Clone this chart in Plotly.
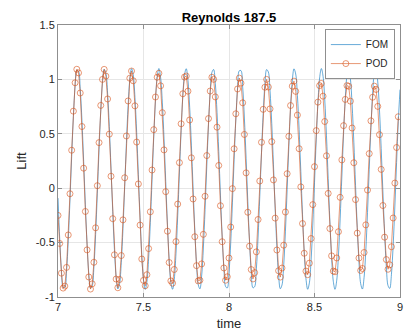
import numpy as np
import plotly.graph_objects as go

# Lift coefficient history, Reynolds 187.5, sampled every 0.01 time units from t = 7
t0 = 7.0
dt = 0.01

# Full-order model (FOM)
lift_fom = [
    -0.091, -0.464, -0.751, -0.909, -0.912, -0.760, -0.478, -0.108, 0.292, 0.660, 0.939, 1.085, 1.076, 0.913, 0.622, 0.247,
    -0.152, -0.515, -0.785, -0.919, -0.898, -0.724, -0.425, -0.046, 0.353, 0.710, 0.970, 1.093, 1.059, 0.875, 0.568, 0.185,
    -0.212, -0.565, -0.815, -0.926, -0.880, -0.685, -0.370, 0.016, 0.412, 0.758, 1.000, 1.099, 1.041, 0.835, 0.512, 0.124,
    -0.271, -0.610, -0.843, -0.930, -0.860, -0.643, -0.314, 0.078, 0.471, 0.804, 1.025, 1.100, 1.018, 0.791, 0.454, 0.061,
    -0.329, -0.655, -0.866, -0.929, -0.836, -0.598, -0.255, 0.140, 0.528, 0.846, 1.046, 1.098, 0.991, 0.745, 0.396, -0.001,
    -0.385, -0.696, -0.886, -0.925, -0.807, -0.550, -0.196, 0.203, 0.582, 0.886, 1.064, 1.091, 0.962, 0.696, 0.336, -0.063,
    -0.440, -0.734, -0.903, -0.917, -0.776, -0.502, -0.135, 0.264, 0.636, 0.922, 1.079, 1.081, 0.929, 0.645, 0.275, -0.125,
    -0.492, -0.770, -0.915, -0.905, -0.741, -0.449, -0.074, 0.325, 0.687, 0.956, 1.090, 1.068, 0.893, 0.593, 0.214, -0.185,
    -0.542, -0.802, -0.924, -0.889, -0.704, -0.395, -0.012, 0.385, 0.737, 0.986, 1.097, 1.050, 0.853, 0.538, 0.152, -0.245,
    -0.590, -0.831, -0.929, -0.870, -0.662, -0.339, 0.050, 0.444, 0.783, 1.014, 1.100, 1.029, 0.812, 0.481, 0.089, -0.303,
    -0.636, -0.856, -0.930, -0.847, -0.618, -0.282, 0.112, 0.502, 0.827, 1.037, 1.099, 1.004, 0.766, 0.423, 0.027, -0.360,
    -0.677, -0.877, -0.927, -0.820, -0.573, -0.224, 0.174, 0.558, 0.868, 1.056, 1.095, 0.976, 0.719, 0.363, -0.035, -0.415,
    -0.718, -0.895, -0.921, -0.791, -0.524, -0.164, 0.236, 0.612, 0.906,
]

# Reduced-order model (POD)
lift_pod = [
    -0.250, -0.508, -0.781, -0.918, -0.900, -0.728, -0.430, -0.051, 0.349, 0.708, 0.969, 1.093, 1.060, 0.875, 0.567, 0.184,
    -0.214, -0.567, -0.816, -0.927, -0.879, -0.681, -0.364, 0.023, 0.419, 0.761, 1.000, 1.092, 1.030, 0.820, 0.497, 0.110,
    -0.280, -0.612, -0.835, -0.915, -0.839, -0.619, -0.291, 0.096, 0.480, 0.802, 1.011, 1.077, 0.987, 0.757, 0.424, 0.039,
    -0.339, -0.651, -0.847, -0.897, -0.795, -0.555, -0.217, 0.167, 0.538, 0.838, 1.020, 1.056, 0.941, 0.694, 0.352, -0.032,
    -0.395, -0.683, -0.852, -0.873, -0.747, -0.491, -0.146, 0.235, 0.592, 0.868, 1.022, 1.031, 0.892, 0.627, 0.279, -0.099,
    -0.446, -0.712, -0.852, -0.846, -0.696, -0.424, -0.074, 0.300, 0.640, 0.893, 1.020, 1.001, 0.839, 0.561, 0.209, -0.161,
    -0.492, -0.733, -0.846, -0.814, -0.642, -0.357, -0.004, 0.362, 0.684, 0.912, 1.012, 0.966, 0.785, 0.494, 0.141, -0.221,
    -0.533, -0.748, -0.834, -0.776, -0.585, -0.288, 0.066, 0.422, 0.725, 0.928, 1.000, 0.930, 0.729, 0.428, 0.076, -0.275,
    -0.568, -0.759, -0.817, -0.734, -0.524, -0.219, 0.133, 0.477, 0.760, 0.938, 0.984, 0.890, 0.672, 0.363, 0.012, -0.325,
    -0.598, -0.762, -0.795, -0.689, -0.463, -0.151, 0.198, 0.529, 0.791, 0.943, 0.963, 0.846, 0.613, 0.298, -0.048, -0.371,
    -0.622, -0.762, -0.768, -0.641, -0.400, -0.084, 0.260, 0.575, 0.816, 0.943, 0.937, 0.800, 0.553, 0.234, -0.105, -0.413,
    -0.642, -0.756, -0.738, -0.591, -0.337, -0.017, 0.318, 0.619, 0.836, 0.938, 0.908, 0.752, 0.492, 0.173, -0.159, -0.450,
    -0.656, -0.745, -0.704, -0.538, -0.274, 0.047, 0.374, 0.657,
]

t_fom = np.round(t0 + dt * np.arange(len(lift_fom)), 2)
t_pod = np.round(t0 + dt * np.arange(len(lift_pod)), 2)

x_ticks = [7, 7.5, 8, 8.5, 9]
x_ticktext = ["7", "7.5", "8", "8.5", "9"]
y_ticks = [-1, -0.5, 0, 0.5, 1, 1.5]
y_ticktext = ["-1", "-0.5", "0", "0.5", "1", "1.5"]

BLUE = "#0072BD"
ORANGE = "#D95319"
FONT = "Liberation Sans, Arial, Helvetica, sans-serif"
AXIS_GREY = "#8f8f8f"
GRID_GREY = "#e6e6e6"

fig = go.Figure()
fig.add_trace(go.Scatter(
    x=t_fom, y=lift_fom, mode="lines", name="FOM",
    line=dict(color=BLUE, width=0.6, shape="spline", smoothing=1),
))
fig.add_trace(go.Scatter(
    x=t_pod, y=lift_pod, mode="lines+markers", name="POD",
    line=dict(color=ORANGE, width=0.6),
    marker=dict(symbol="circle-open", size=6, color=ORANGE, line=dict(width=0.6, color=ORANGE)),
))

axis_common = dict(
    showgrid=True, gridcolor=GRID_GREY, gridwidth=1,
    zeroline=False, showline=True, linecolor=AXIS_GREY, linewidth=1,
    mirror="ticks", ticks="inside", ticklen=4, tickcolor=AXIS_GREY, tickwidth=1,
    tickfont=dict(family=FONT, size=11, color="#262626"),
)

fig.update_layout(
    width=408, height=333,
    margin=dict(l=58, r=5, t=25, b=36),
    paper_bgcolor="white", plot_bgcolor="white",
    font=dict(family=FONT, color="#262626"),
    title=dict(
        text="Reynolds 187.5", x=0.5, xref="paper", xanchor="center",
        y=1 - 17 / 333, yref="container", yanchor="middle",
        font=dict(family=FONT, size=13, color="black", weight="bold"),
    ),
    xaxis=dict(
        range=[7, 9], tickvals=x_ticks, ticktext=x_ticktext,
        title=dict(text="time", font=dict(family=FONT, size=13, color="#262626"), standoff=6),
        **axis_common,
    ),
    yaxis=dict(
        range=[-1, 1.5], tickvals=y_ticks, ticktext=y_ticktext,
        title=dict(text="Lift", font=dict(family=FONT, size=13, color="#262626"), standoff=6),
        **axis_common,
    ),
    legend=dict(
        x=0.985, y=0.985, xanchor="right", yanchor="top",
        bgcolor="white", bordercolor=AXIS_GREY, borderwidth=1,
        font=dict(family=FONT, size=10, color="#262626"),
        itemwidth=30, tracegroupgap=0,
    ),
    showlegend=True,
)

fig.write_html("out.html")
